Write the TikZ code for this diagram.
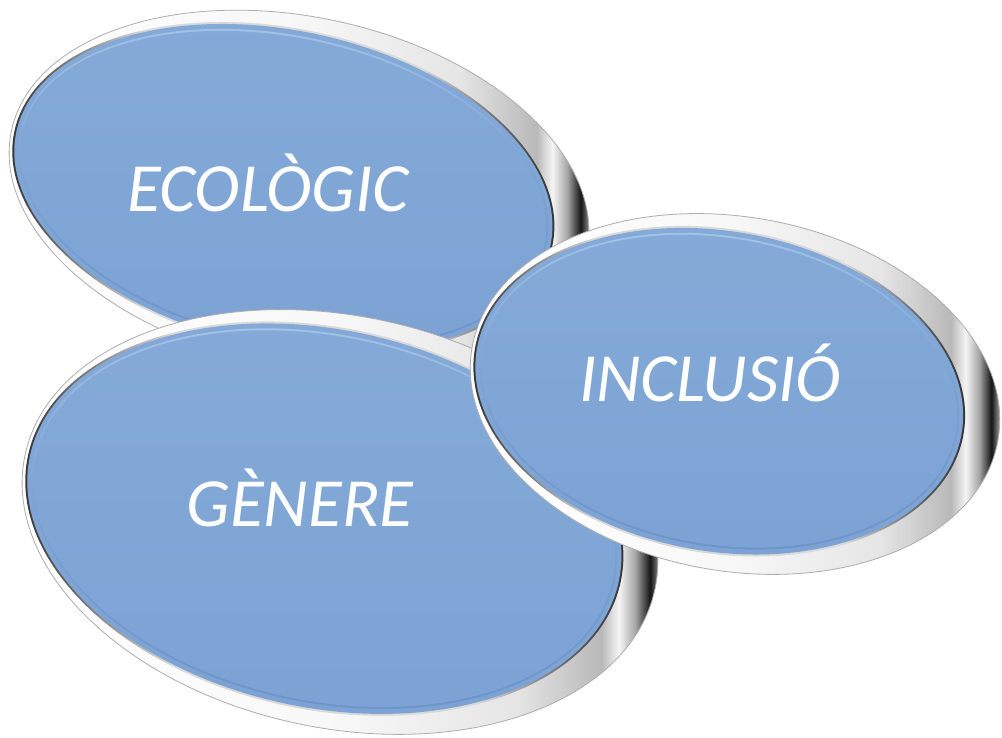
\documentclass[tikz,border=0pt]{standalone}
\usepackage{fontspec}
\setmainfont{Carlito}
\definecolor{hltop}{HTML}{A8C6EA}
\definecolor{hlbot}{HTML}{6F95C8}
\definecolor{blueA}{HTML}{85AAD8}
\definecolor{blueB}{HTML}{7CA3D4}
\pgfdeclarehorizontalshading{chrome}{100bp}{%
  color(0bp)=(gray!60); color(25bp)=(gray!60); color(26.6bp)=(white);
  color(50bp)=(white!94!gray); color(63bp)=(white!80!gray);
  color(69.3bp)=(gray!55); color(70.6bp)=(white!92!gray);
  color(71.8bp)=(gray!70); color(72.9bp)=(black!92); color(73.8bp)=(gray!55); color(100bp)=(gray!55)}
\pgfdeclarehorizontalshading{ringsh}{100bp}{%
  color(0bp)=(black!85); color(25bp)=(black!85); color(29bp)=(gray!70!black);
  color(38bp)=(white!70!gray); color(62bp)=(white!70!gray);
  color(70bp)=(gray!70!black); color(75bp)=(black!85); color(100bp)=(black!85)}
\tikzset{
  rimstyle/.style={shading=chrome, draw=gray!65, line width=0.8pt},
  ringstyle/.style={shading=ringsh},
  hlstyle/.style={top color=hltop, bottom color=hlbot, middle color=blueB},
  facestyle/.style={top color=blueA, bottom color=blueB},
  label/.style={text=white, font=\fontsize{69}{80}\selectfont\itshape, inner sep=0pt, anchor=base}
}
\newcommand{\metaldisc}[5]{%
  \begin{scope}[shift={(#1,#2)}, rotate=#5]
    \shade[rimstyle] (0,0) ellipse [x radius=#3, y radius=#4];
    \shade[ringstyle] (-16,0) ellipse [x radius=#3-19, y radius=#4-15];
    \shade[facestyle] (-16,0) ellipse [x radius=#3-21, y radius=#4-17];
    \shade[hlstyle] (-16,0) ellipse [x radius=#3-25, y radius=#4-22];
    \shade[facestyle] (-16,0) ellipse [x radius=#3-27, y radius=#4-24];
  \end{scope}}
\begin{document}
\begin{tikzpicture}[x=1pt, y=1pt]
  \useasboundingbox (0,0) rectangle (1002,738);
  % ECOLOGIC (back)
  \metaldisc{299}{546}{294}{175}{-12}
  % GENERE (middle)
  \metaldisc{340}{216}{322}{206}{-12}
  % INCLUSIO (front)
  \metaldisc{735}{344}{267}{177}{-10}
  \node[label] (eco) at (268,526) {ECOLÒGIC};
  \node[label] (gen) at (300,211) {GÈNERE};
  \node[label] (inc) at (710,336) {INCLUSIÓ};
\end{tikzpicture}
\end{document}
